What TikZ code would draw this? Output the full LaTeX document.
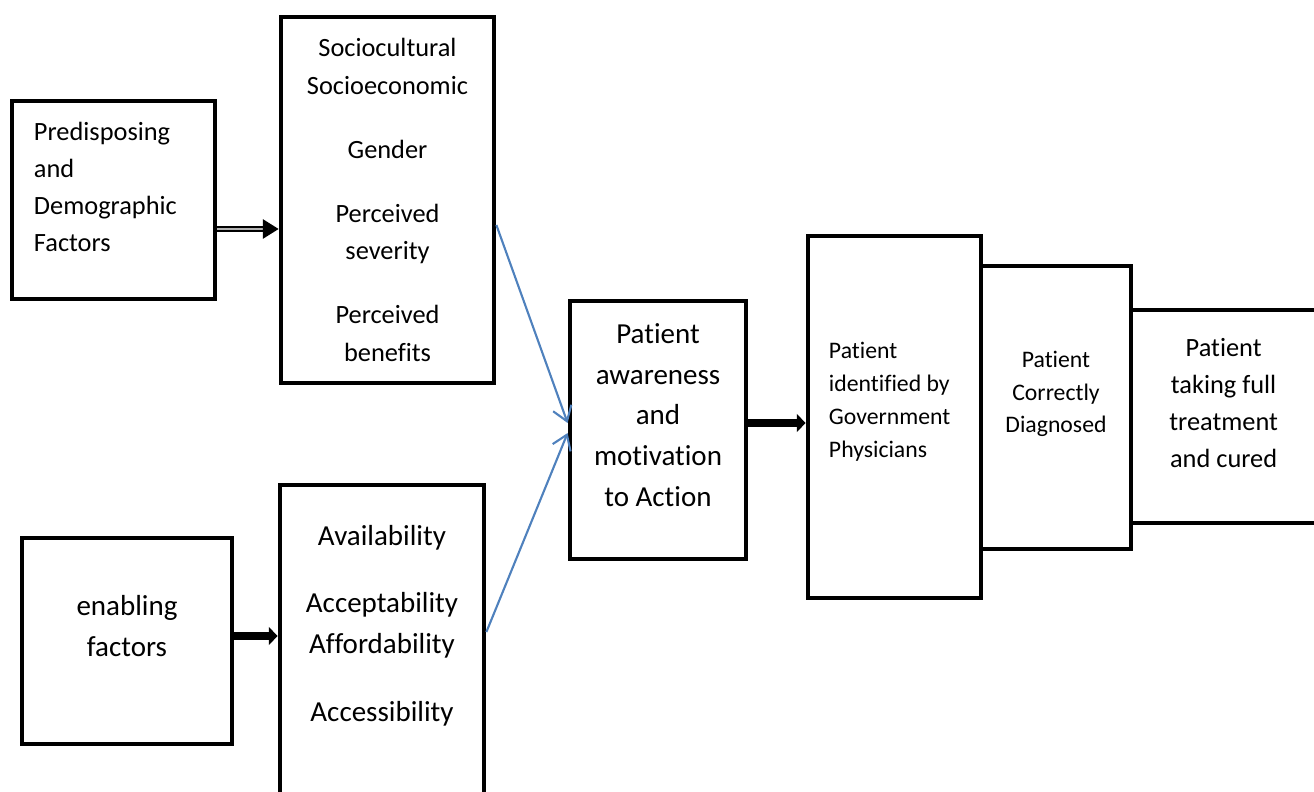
\documentclass[tikz,border=0pt]{standalone}
\usepackage{fontspec}
\setmainfont{Carlito}[Ligatures=CommonOff]
\usetikzlibrary{positioning, arrows.meta}

\begin{document}
\begin{tikzpicture}[box/.style = {draw, line width=2.7pt, inner sep=0pt},
  tmed/.style = {inner sep=0pt, align=center, font=\fontsize{15}{21.2}\selectfont},
  tbig/.style = {inner sep=0pt, align=center, font=\fontsize{16.5}{23.2}\selectfont},
  tsmall/.style = {inner sep=0pt, align=center, font=\fontsize{13.5}{18.7}\selectfont},
  dbl/.style = {line width=1pt, double=gray!60, double distance=1.6pt, -{Triangle[length=9pt, width=11pt]}},
  fat/.style = {line width=4pt, -{Triangle[length=5pt, width=10pt]}},
  blu/.style = {draw={rgb,255:red,79;green,129;blue,189}, line width=1.2pt, -{Straight Barb[length=8pt, width=11pt]}}]
  \useasboundingbox (0,0) rectangle (26.28,-15.82);

  % boxes
  \node[box, minimum width=4.06cm, minimum height=3.96cm] (pre) at (2.27,-4.0) {};
  \node[box, minimum width=4.26cm, minimum height=7.32cm] (soc) at (7.75,-4.0) {};
  \node[box, minimum width=4.2cm, minimum height=4.12cm] (ena) at (2.54,-12.82) {};
  \node[box, minimum width=4.08cm, minimum height=6.5cm] (ava) at (7.64,-12.95) {};
  \node[box, minimum width=3.52cm, minimum height=5.16cm] (aw) at (13.16,-8.6) {};
  \node[box, minimum width=3.46cm, minimum height=7.24cm] (idf) at (17.89,-8.34) {};
  \node[box, minimum width=3.0cm, minimum height=5.66cm] (cor) at (21.12,-8.15) {};
  \node[box, minimum width=4.38cm, minimum height=4.26cm] (tak) at (24.81,-8.33) {};

  % texts
  \node[tmed, align=left, anchor=west] (preT) at ([xshift=4.8mm, yshift=2.6mm]pre.west) {Predisposing\\and\\Demographic\\Factors};
  \node[tmed] (socT) at (soc) {Sociocultural\\Socioeconomic\\[15.3pt]Gender\\[15.3pt]Perceived\\severity\\[15.3pt]Perceived\\benefits};
  \node[tbig] (enaT) at ([yshift=3mm]ena.center) {enabling\\factors};
  \node[tbig] (avaT) at ([yshift=4.4mm]ava.center) {Availability\\[15.3pt]Acceptability\\Affordability\\[15.3pt]Accessibility};
  \node[tbig] (awT) at ([yshift=3mm]aw.center) {Patient\\awareness\\and\\motivation\\to Action};
  \node[tsmall, align=left, anchor=west] (idfT) at ([xshift=4.6mm, yshift=3mm]idf.west) {Patient\\identified by\\Government\\Physicians};
  \node[tsmall] (corT) at ([yshift=2.7mm]cor.center) {Patient\\Correctly\\Diagnosed};
  \node[tmed] (takT) at ([xshift=19mm, yshift=2.7mm]tak.west) {Patient\\taking full\\treatment\\and cured};

  % connectors
  \draw[dbl] ([yshift=-5.8mm]pre.east) -- ([yshift=-5.8mm]soc.west);
  \draw[fat] ([yshift=1mm]ena.east) -- ([yshift=1mm]ena.east -| ava.west);
  \draw[fat] ([yshift=1.4mm]aw.east) -- ([yshift=1.4mm]aw.east -| idf.west);
  \draw[blu] ([yshift=-5mm]soc.east) -- ([yshift=1.4mm]aw.west);
  \draw[blu] ([yshift=3.1mm]ava.east) -- ([yshift=-0.6mm]aw.west);

\end{tikzpicture}
\end{document}
